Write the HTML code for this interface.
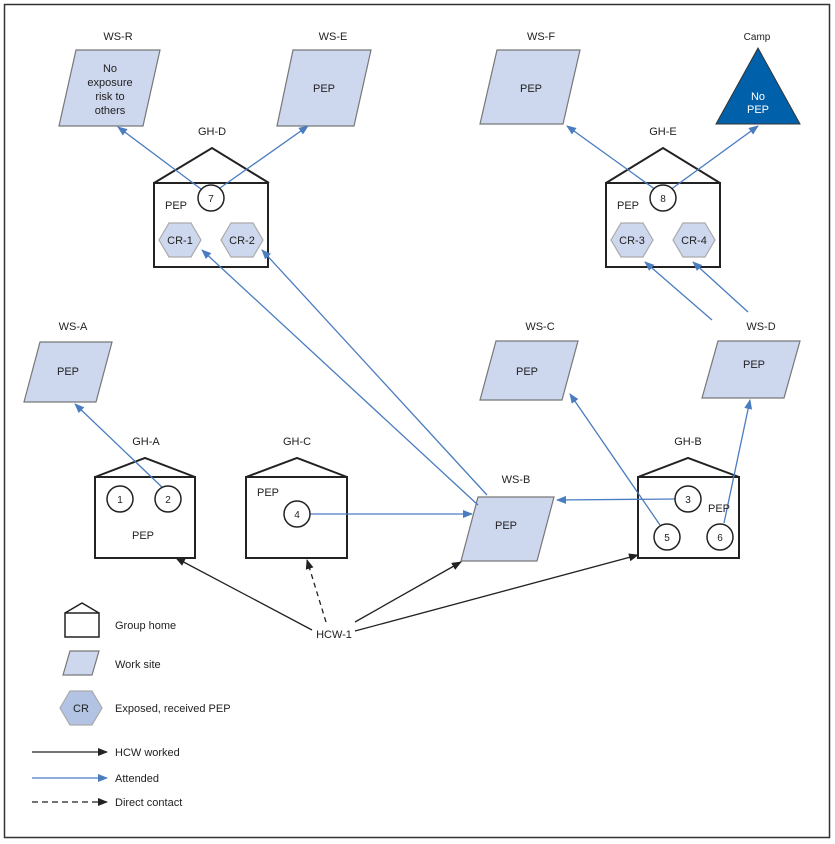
<!DOCTYPE html>
<html><head><style>body{margin:0;background:#fff}svg{display:block}text{font-family:"Liberation Sans",sans-serif;font-size:11px;fill:#222}</style></head><body>
<svg width="835" height="844" viewBox="0 0 835 844" xmlns="http://www.w3.org/2000/svg">
<defs>
<marker id="ab" markerWidth="10" markerHeight="8" refX="9" refY="4" orient="auto" markerUnits="userSpaceOnUse"><path d="M0,0L10,4L0,8z" fill="#4a7cc0"/></marker>
<marker id="ak" markerWidth="10" markerHeight="8" refX="9" refY="4" orient="auto" markerUnits="userSpaceOnUse"><path d="M0,0L10,4L0,8z" fill="#222"/></marker>
</defs>
<rect x="4.5" y="4.5" width="825" height="833" fill="none" stroke="#333" stroke-width="1.5"/>
<g fill="#cdd7ee" stroke="#777" stroke-width="1.2">
<polygon points="59,126 76,50 160,50 143,126"/>
<polygon points="277,126 293,50 371,50 354,126"/>
<polygon points="480,124 497,50 580,50 563,124"/>
<polygon points="702,398 718,341 800,341 784,398"/>
<polygon points="480,400 496,341 578,341 562,400"/>
<polygon points="24,402 40,342 112,342 96,402"/>
<polygon points="461,561 478,497 554,497 537,561"/>
<polygon points="63,675 70,651 99,651 92,675"/>
</g>
<polygon points="716,124 758,48 800,124" fill="#0060a9" stroke="#333" stroke-width="1"/>
<g fill="none" stroke="#222" stroke-width="2">
<path d="M154,183 L212,148 L269,183 M154,183 H268 V267 H154 Z"/>
<path d="M606,183 L663,148 L720,183 M606,183 H720 V267 H606 Z"/>
<path d="M95,477 L145,458 L195,477 M95,477 H195 V558 H95 Z"/>
<path d="M246,477 L297,458 L347,477 M246,477 H347 V558 H246 Z"/>
<path d="M638,477 L688,458 L739,477 M638,477 H739 V558 H638 Z"/>
<path d="M65,613 L82,603 L99,613 M65,613 H99 V637 H65 Z" stroke-width="1.5"/>
</g>
<g fill="#cdd7ee" stroke="#aaa" stroke-width="1.2">
<polygon points="159,240 169,223 191,223 201,240 191,257 169,257"/>
<polygon points="221,240 231,223 253,223 263,240 253,257 231,257"/>
<polygon points="611,240 621,223 643,223 653,240 643,257 621,257"/>
<polygon points="673,240 683,223 705,223 715,240 705,257 683,257"/>
<polygon points="60,708 70,691 92,691 102,708 92,725 70,725" fill="#b3c3e3"/>
</g>
<g stroke="#4a7cc0" stroke-width="1.3" fill="none" marker-end="url(#ab)">
<line x1="205" y1="192" x2="118" y2="127"/>
<line x1="220" y1="188" x2="308" y2="126"/>
<line x1="656" y1="190" x2="567" y2="126"/>
<line x1="670" y1="190" x2="758" y2="126"/>
<line x1="712" y1="320" x2="645" y2="262"/>
<line x1="748" y1="312" x2="693" y2="262"/>
<line x1="165" y1="490" x2="75" y2="404"/>
<line x1="310" y1="514" x2="472" y2="514"/>
<line x1="676" y1="499" x2="557" y2="500"/>
<line x1="660" y1="525" x2="570" y2="394"/>
<line x1="724" y1="523" x2="750" y2="400"/>
<line x1="478" y1="505" x2="202" y2="250"/>
<line x1="487" y1="495" x2="262" y2="250"/>
<line x1="32" y1="778" x2="107" y2="778"/>
</g>
<g fill="#fff" stroke="#222" stroke-width="1.5">
<circle cx="211" cy="198" r="13"/><circle cx="663" cy="198" r="13"/>
<circle cx="120" cy="499" r="13"/><circle cx="168" cy="499" r="13"/>
<circle cx="297" cy="514" r="13"/>
<circle cx="688" cy="499" r="13"/><circle cx="667" cy="537" r="13"/><circle cx="720" cy="537" r="13"/>
</g>
<g stroke="#222" stroke-width="1.3" fill="none" marker-end="url(#ak)">
<line x1="312" y1="630" x2="176" y2="558"/>
<line x1="326" y1="622" x2="307" y2="560" stroke-dasharray="5,4"/>
<line x1="355" y1="622" x2="461" y2="562"/>
<line x1="355" y1="631" x2="638" y2="555"/>
<line x1="32" y1="752" x2="107" y2="752"/>
<line x1="32" y1="802" x2="107" y2="802" stroke-dasharray="6,4"/>
</g>
<g text-anchor="middle" style="font-size:12px">
<text x="118" y="40">WS-R</text><text x="333" y="40">WS-E</text><text x="541" y="40">WS-F</text>
<text x="757" y="40" style="font-size:10px">Camp</text>
<text x="212" y="135">GH-D</text><text x="663" y="135">GH-E</text>
<text x="73" y="330">WS-A</text><text x="540" y="330">WS-C</text><text x="761" y="330">WS-D</text>
<text x="146" y="445">GH-A</text><text x="297" y="445">GH-C</text><text x="688" y="445">GH-B</text>
<text x="516" y="483">WS-B</text>
</g>
<g text-anchor="middle">
<text x="110" y="72">No</text><text x="110" y="86">exposure</text><text x="110" y="100">risk to</text><text x="110" y="114">others</text>
<text x="324" y="92">PEP</text><text x="531" y="92">PEP</text>
<text x="758" y="100" style="fill:#fff">No</text><text x="758" y="113" style="fill:#fff">PEP</text>
<text x="754" y="368">PEP</text><text x="527" y="375">PEP</text><text x="68" y="375">PEP</text>
<text x="506" y="529">PEP</text><text x="143" y="539">PEP</text>
<text x="211" y="202" style="font-size:10px">7</text><text x="663" y="202" style="font-size:10px">8</text>
<text x="120" y="503" style="font-size:10px">1</text><text x="168" y="503" style="font-size:10px">2</text>
<text x="297" y="518" style="font-size:10px">4</text>
<text x="688" y="503" style="font-size:10px">3</text><text x="667" y="541" style="font-size:10px">5</text><text x="720" y="541" style="font-size:10px">6</text>
<text x="180" y="244">CR-1</text><text x="242" y="244">CR-2</text><text x="632" y="244">CR-3</text><text x="694" y="244">CR-4</text>
<text x="81" y="712">CR</text>
<text x="334" y="638">HCW-1</text>
</g>
<text x="165" y="209">PEP</text><text x="617" y="209">PEP</text>
<text x="257" y="496">PEP</text><text x="708" y="512">PEP</text>
<text x="115" y="629">Group home</text>
<text x="115" y="668">Work site</text>
<text x="115" y="712">Exposed, received PEP</text>
<text x="115" y="756">HCW worked</text>
<text x="115" y="782">Attended</text>
<text x="115" y="806">Direct contact</text>
</svg>
</body></html>
